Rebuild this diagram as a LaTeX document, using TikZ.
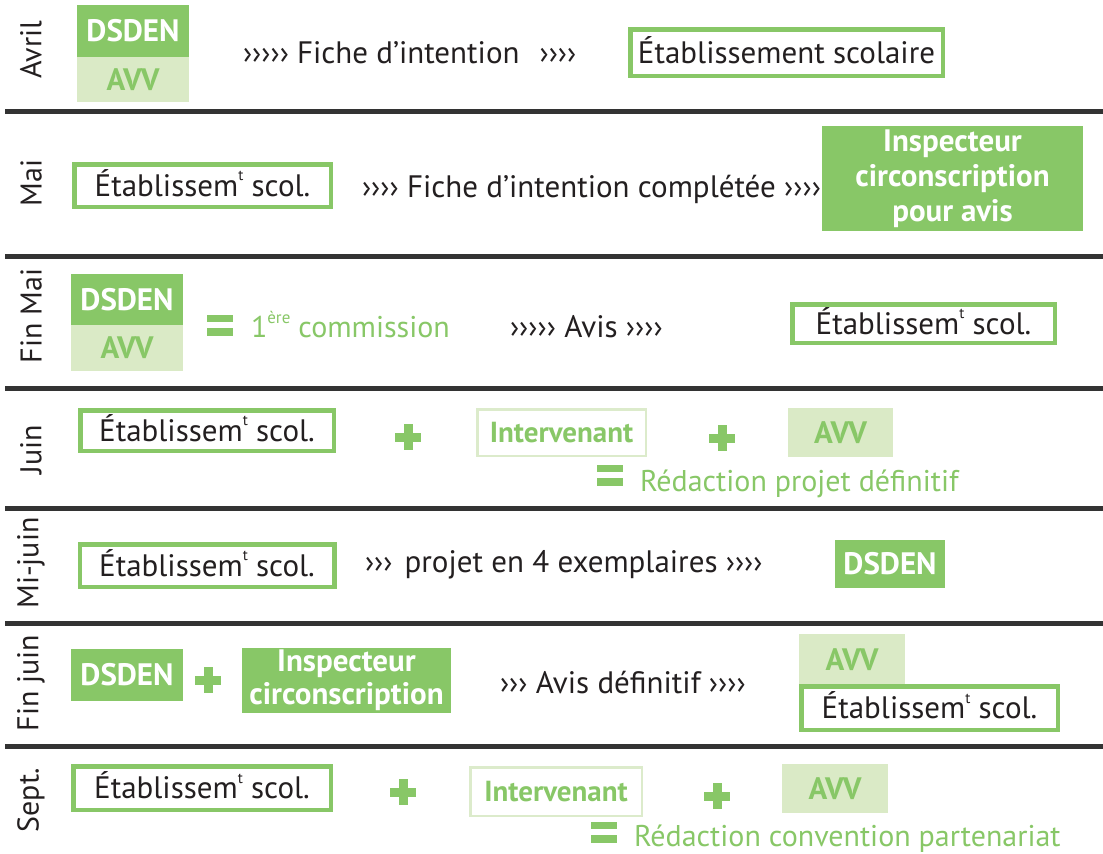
\documentclass[tikz,border=0pt]{standalone}
\usepackage{fontspec}
\setmainfont{PT Sans}
\definecolor{vert}{HTML}{88C767}
\definecolor{vertpale}{HTML}{DAEAC6}
\definecolor{vertbord}{HTML}{DCEBCB}
\definecolor{txt}{HTML}{231F20}
\definecolor{sepcol}{HTML}{333333}
\newcommand{\fb}{\fontsize{31}{34}\selectfont}
\newcommand{\fg}{\fontsize{30}{33}\selectfont}
\newcommand{\fbb}{\bfseries\fontsize{31}{34}\selectfont}
\newcommand{\expo}[1]{\raisebox{0.5em}{\fontsize{15}{15}\selectfont #1}}
\begin{document}
\begin{tikzpicture}[x=1pt,y=-1pt,
  every node/.style={inner sep=0pt, outer sep=0pt},
  month/.style={rotate=90, font=\fontsize{30}{32}\selectfont, text=txt},
  flow/.style={font=\fb, text=txt, anchor=base west},
  etab/.style={draw=vert, line width=4.5pt, fill=white, text=txt, font=\fb, text height=21.5pt, text depth=0pt},
  dsden/.style={fill=vert, text=white, font=\fbb},
  avv/.style={fill=vertpale, text=vert, font=\fbb},
  interv/.style={draw=vertbord, line width=2.5pt, fill=white, text=vert, font=\bfseries\fontsize{29}{32}\selectfont},
  result/.style={text=vert, font=\fg, anchor=base west},
  sep/.style={draw=sepcol, line width=5pt},
  plussign/.style={minimum size=26pt, path picture={
     \fill[vert] ([xshift=-13pt,yshift=-4.5pt]path picture bounding box.center) rectangle ++(26pt,9pt);
     \fill[vert] ([xshift=-4.5pt,yshift=-13pt]path picture bounding box.center) rectangle ++(9pt,26pt);}},
  egal/.style={minimum width=26pt, minimum height=21pt, path picture={
     \fill[vert] ([xshift=-13pt,yshift=3pt]path picture bounding box.center) rectangle ++(26pt,7.5pt);
     \fill[vert] ([xshift=-13pt,yshift=-10.5pt]path picture bounding box.center) rectangle ++(26pt,7.5pt);}}
]
\useasboundingbox (0,0) rectangle (1103,854);
% separators
\foreach \yy in {111,256,388,508,623,746} \draw[sep] (5,\yy) -- (1103,\yy);

% ---- Avril
\node[month] (m1) at (31,50) {Avril};
\node[dsden, minimum width=112pt, minimum height=52pt] (r1dsden) at (133,31) {DSDEN};
\node[avv, minimum width=112pt, minimum height=45pt] (r1avv) at (133,79.5) {AVV};
\node[flow] (r1flow) at (243,63) {›››››\hspace{8pt}Fiche d’intention\hspace{20pt}››››};
\node[etab, minimum width=312.5pt, minimum height=46.5pt] (r1etab) at (786.5,52.5) {Établissement scolaire};

% ---- Mai
\node[month] (m2) at (31,183) {Mai};
\node[etab, minimum width=256.5pt, minimum height=42.5pt] (r2etab) at (202.5,185.5) {Établissem\expo{t} scol.};
\node[flow] (r2flow) at (362,197) {›››› Fiche d’intention complétée ››››};
\node[dsden, minimum width=261pt, minimum height=105pt, align=center, font=\bfseries\fontsize{31}{35}\selectfont] (r2insp) at (952.5,178.5) {Inspecteur\\circonscription\\pour avis};

% ---- Fin Mai
\node[month] (m3) at (31,316) {Fin Mai};
\node[dsden, minimum width=112pt, minimum height=51pt] (r3dsden) at (127,299.5) {DSDEN};
\node[avv, minimum width=112pt, minimum height=46pt] (r3avv) at (127,348) {AVV};
\node[egal] (r3eq) at (220,325) {};
\node[result] (r3com) at (251,337) {1\raisebox{0.45em}{\fontsize{17}{17}\selectfont ère} commission};
\node[flow] (r3flow) at (510,337) {››››› Avis ››››};
\node[etab, minimum width=262.5pt, minimum height=38.5pt] (r3etab) at (923.5,323.5) {Établissem\expo{t} scol.};

% ---- Juin
\node[month] (m4) at (31,450) {Juin};
\node[etab, minimum width=253.5pt, minimum height=40.5pt] (r4etab) at (207,430.5) {Établissem\expo{t} scol.};
\node[plussign] (r4p1) at (408,437) {};
\node[interv, minimum width=168.5pt, minimum height=46.5pt] (r4int) at (561.5,432.5) {Intervenant};
\node[plussign] (r4p2) at (722,438) {};
\node[avv, minimum width=105pt, minimum height=49pt] (r4avv) at (840.5,432.5) {AVV};
\node[egal] (r4eq) at (610,475) {};
\node[result] (r4res) at (640,491) {Rédaction projet définitif};

% ---- Mi-juin
\node[month] (m5) at (31,563) {Mi-juin};
\node[etab, minimum width=254.5pt, minimum height=42.5pt] (r5etab) at (207,565.5) {Établissem\expo{t} scol.};
\node[flow] (r5flow) at (365,572) {›››\hspace{12pt}projet en 4 exemplaires ››››};
\node[dsden, minimum width=110pt, minimum height=48pt] (r5dsden) at (890,564) {DSDEN};

% ---- Fin juin
\node[month] (m6) at (31,683) {Fin juin};
\node[dsden, minimum width=112pt, minimum height=52pt] (r6dsden) at (127,675) {DSDEN};
\node[plussign] (r6p) at (208,680) {};
\node[dsden, minimum width=209pt, minimum height=65pt, align=center, font=\bfseries\fontsize{31}{33}\selectfont] (r6insp) at (346.5,680.5) {Inspecteur\\circonscription};
\node[flow] (r6flow) at (500,693) {››› Avis définitif ››››};
\node[avv, minimum width=106pt, minimum height=51pt] (r6avv) at (852,659.5) {AVV};
\node[etab, minimum width=256.5pt, minimum height=43.5pt] (r6etab) at (929.5,708) {Établissem\expo{t} scol.};

% ---- Sept.
\node[month] (m7) at (31,800) {Sept.};
\node[etab, minimum width=257.5pt, minimum height=43.5pt] (r7etab) at (202,788) {Établissem\expo{t} scol.};
\node[plussign] (r7p1) at (403,792) {};
\node[interv, minimum width=171.5pt, minimum height=48.5pt] (r7int) at (556,791.5) {Intervenant};
\node[plussign] (r7p2) at (717,796) {};
\node[avv, minimum width=106pt, minimum height=49pt] (r7avv) at (835,788.5) {AVV};
\node[egal] (r7eq) at (604,832) {};
\node[result] (r7res) at (634,846) {Rédaction convention partenariat};
\end{tikzpicture}
\end{document}
